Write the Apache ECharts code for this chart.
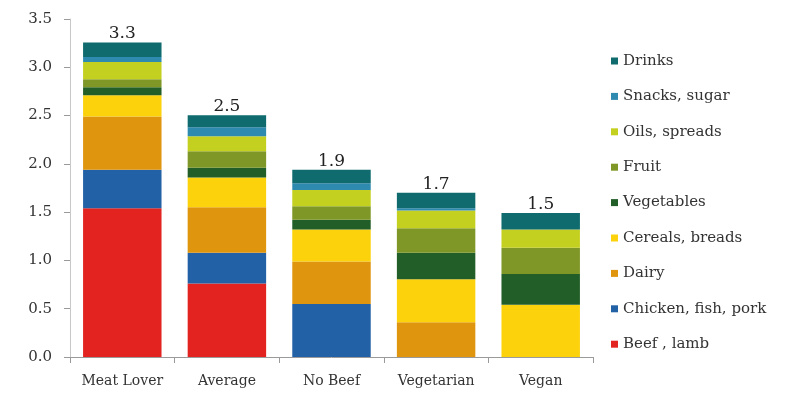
<!DOCTYPE html>
<html>
<head>
<meta charset="utf-8">
<script src="https://cdn.jsdelivr.net/npm/echarts@6/dist/echarts.min.js"></script>
<style>
  html, body { margin: 0; padding: 0; background: #fff; }
  #chart { width: 801px; height: 396px; }
</style>
</head>
<body>
<div id="chart"></div>
<script>
// Diet categories and totals shown above the bars
const categories = ['Meat Lover', 'Average', 'No Beef', 'Vegetarian', 'Vegan'];
const totals = [3.3, 2.5, 1.9, 1.7, 1.5];

// Stack segments, bottom to top
const beefLamb = [1.54, 0.76, 0, 0, 0];
const chickenFishPork = [0.40, 0.32, 0.55, 0, 0];
const dairy = [0.55, 0.47, 0.44, 0.36, 0];
const cerealsBreads = [0.22, 0.31, 0.33, 0.445, 0.54];
const vegetables = [0.083, 0.10, 0.10, 0.275, 0.32];
const fruit = [0.083, 0.17, 0.14, 0.253, 0.27];
const oilsSpreads = [0.18, 0.155, 0.17, 0.183, 0.19];
const snacksSugar = [0.05, 0.094, 0.07, 0.024, 0];
const drinks = [0.15, 0.124, 0.14, 0.16, 0.17];

const yTicks = [0, 0.5, 1.0, 1.5, 2.0, 2.5, 3.0, 3.5];

const serif = '"DejaVu Serif", "Liberation Serif", serif';

const stackDefs = [
    { name: 'Beef , lamb', data: beefLamb, color: '#e2231f' },
    { name: 'Chicken, fish, pork', data: chickenFishPork, color: '#2361a6' },
    { name: 'Dairy', data: dairy, color: '#e0950f' },
    { name: 'Cereals, breads', data: cerealsBreads, color: '#fbd20b' },
    { name: 'Vegetables', data: vegetables, color: '#225e27' },
    { name: 'Fruit', data: fruit, color: '#7e9726' },
    { name: 'Oils, spreads', data: oilsSpreads, color: '#c4d020' },
    { name: 'Snacks, sugar', data: snacksSugar, color: '#2f8ab0' },
    { name: 'Drinks', data: drinks, color: '#0f6b6d' }
];

const series = stackDefs.map((s, i) => ({
    name: s.name,
    type: 'bar',
    stack: 'total',
    barCategoryGap: '25%',
    data: s.data,
    itemStyle: { color: s.color },
    // Only the top segment carries the total label
    label: i === stackDefs.length - 1 ? {
        show: true,
        position: 'top',
        distance: 0,
        fontFamily: serif,
        fontSize: 17,
        color: '#222',
        formatter: p => totals[p.dataIndex].toFixed(1)
    } : { show: false }
}));

const chart = echarts.init(document.getElementById('chart'));
chart.setOption({
    animation: false,
    grid: { left: 70, right: 208, top: 19, bottom: 39 },
    legend: {
        orient: 'vertical',
        left: 606,
        top: 48,
        itemWidth: 7,
        itemHeight: 7,
        itemGap: 19.4,
        icon: 'rect',
        data: stackDefs.map(s => s.name).reverse(),
        textStyle: { fontFamily: serif, fontSize: 15, color: '#333', lineHeight: 16 }
    },
    xAxis: {
        type: 'category',
        data: categories,
        axisLine: { lineStyle: { color: '#9a9a9a' } },
        axisTick: { show: true, alignWithLabel: false, length: 6, lineStyle: { color: '#9a9a9a' } },
        axisLabel: { fontFamily: serif, fontSize: 14, color: '#333', margin: 17, interval: 0 }
    },
    yAxis: {
        type: 'value',
        min: yTicks[0],
        max: yTicks[yTicks.length - 1],
        interval: 0.5,
        splitLine: { show: false },
        axisLine: { show: true, lineStyle: { color: '#c8c8c8' } },
        axisTick: { show: true, length: 6, lineStyle: { color: '#9a9a9a' } },
        axisLabel: { fontFamily: serif, fontSize: 15, color: '#333', margin: 18,
            formatter: v => v.toFixed(1) }
    },
    series: series
});
</script>
</body>
</html>
